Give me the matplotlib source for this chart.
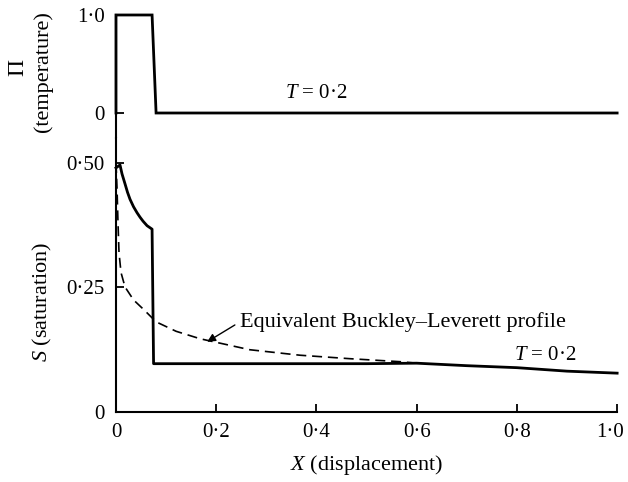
import matplotlib
matplotlib.use('Agg')
import matplotlib.pyplot as plt
import matplotlib.transforms as mtransforms

plt.rcParams['font.family'] = ['Liberation Serif', 'DejaVu Serif']
plt.rcParams['mathtext.fontset'] = 'custom'
plt.rcParams['mathtext.it'] = 'Liberation Serif:italic'
plt.rcParams['mathtext.rm'] = 'Liberation Serif'

# temperature profile (top panel)
pi_x = [0.0, 0.0, 0.072, 0.080, 1.0]
pi_y = [0.0, 1.0, 1.0, 0.0, 0.0]

# saturation profile (bottom panel, solid)
sat_x = [0.0, 0.008, 0.012, 0.018, 0.023, 0.028, 0.035, 0.042, 0.048, 0.054, 0.062, 0.072,
         0.075, 0.3, 0.5, 0.6, 0.7, 0.8, 0.9, 1.0]
sat_y = [0.49, 0.496, 0.478, 0.458, 0.441, 0.427, 0.412, 0.400, 0.391, 0.383, 0.374, 0.367,
         0.097, 0.097, 0.097, 0.098, 0.093, 0.089, 0.082, 0.078]

# equivalent Buckley-Leverett profile (dashed)
bl_x = [0.0, 0.002, 0.004, 0.006, 0.01, 0.018, 0.035, 0.056, 0.08, 0.12, 0.168, 0.267, 0.367, 0.467, 0.567, 0.6]
bl_y = [0.50, 0.45, 0.38, 0.32, 0.28, 0.251, 0.225, 0.205, 0.181, 0.162, 0.147, 0.125, 0.114, 0.107, 0.101, 0.098]

x_ticks = [0, 0.2, 0.4, 0.6, 0.8, 1.0]
x_labels = ['0', '0·2', '0·4', '0·6', '0·8', '1·0']
s_ticks = [0, 0.25, 0.5]
s_labels = ['0', '0·25', '0·50']
pi_ticks = [0, 1.0]
pi_labels = ['0', '1·0']

fig = plt.figure(figsize=(6.28, 4.82), dpi=100)
ax1 = fig.add_axes([0.1847, 0.7137, 0.798, 0.2552])
ax2 = fig.add_axes([0.1847, 0.1452, 0.798, 0.5685])

fs = 15
lw = 2.0

ax1.plot(pi_x, pi_y, color='black', lw=lw, clip_on=False, solid_joinstyle='miter')
ax1.set_xlim(0, 1.0)
ax1.set_ylim(-0.255, 1.0)
ax1.set_yticks(pi_ticks)
ax1.set_yticklabels(pi_labels, fontsize=fs)
ax1.set_xticks([])
for s in ['top', 'right', 'bottom']:
    ax1.spines[s].set_visible(False)
ax1.spines['left'].set_linewidth(1.5)
ax1.tick_params(axis='y', direction='in', length=6, width=1.3, pad=8)
ax1.text(0.40, 0.20, '$T$ = 0·2', fontsize=fs, ha='center', va='center')

ax2.plot(sat_x, sat_y, color='black', lw=lw, clip_on=False)
ax2.plot(bl_x, bl_y, color='black', lw=1.2, linestyle=(0, (6, 3.5)), clip_on=False)
ax2.set_xlim(0, 1.0)
ax2.set_ylim(0, 0.55)
ax2.set_xticks(x_ticks)
ax2.set_xticklabels(x_labels, fontsize=fs)
ax2.set_yticks(s_ticks)
ax2.set_yticklabels(s_labels, fontsize=fs)
for s in ['top', 'right']:
    ax2.spines[s].set_visible(False)
ax2.spines['left'].set_linewidth(1.5)
ax2.spines['bottom'].set_linewidth(1.5)
ax2.tick_params(direction='in', length=6, width=1.3, pad=8)
# keep the last x label inside the figure
last = ax2.get_xticklabels()[-1]
last.set_transform(last.get_transform() + mtransforms.ScaledTranslation(-5 / 72, 0, fig.dpi_scale_trans))

ax2.text(0.856, 0.114, '$T$ = 0·2', fontsize=fs, ha='center', va='center')
ax2.annotate('Equivalent Buckley–Leverett profile', xy=(0.182, 0.141), xytext=(0.2475, 0.181),
             fontsize=16, ha='left', va='center',
             arrowprops=dict(arrowstyle='-|>', color='black', lw=1.0, mutation_scale=12,
                             shrinkA=2, shrinkB=0, relpos=(0, 0.5)))
ax2.set_xlabel('$X$ (displacement)', fontsize=16, labelpad=8)

fig.text(0.029, 0.859, 'Π', fontsize=17, rotation=90, ha='center', va='center')
fig.text(0.068, 0.851, '(temperature)', fontsize=16, rotation=90, ha='center', va='center')
fig.text(0.068, 0.373, '$S$ (saturation)', fontsize=16, rotation=90, ha='center', va='center')

fig.savefig('out.png', dpi=100)
